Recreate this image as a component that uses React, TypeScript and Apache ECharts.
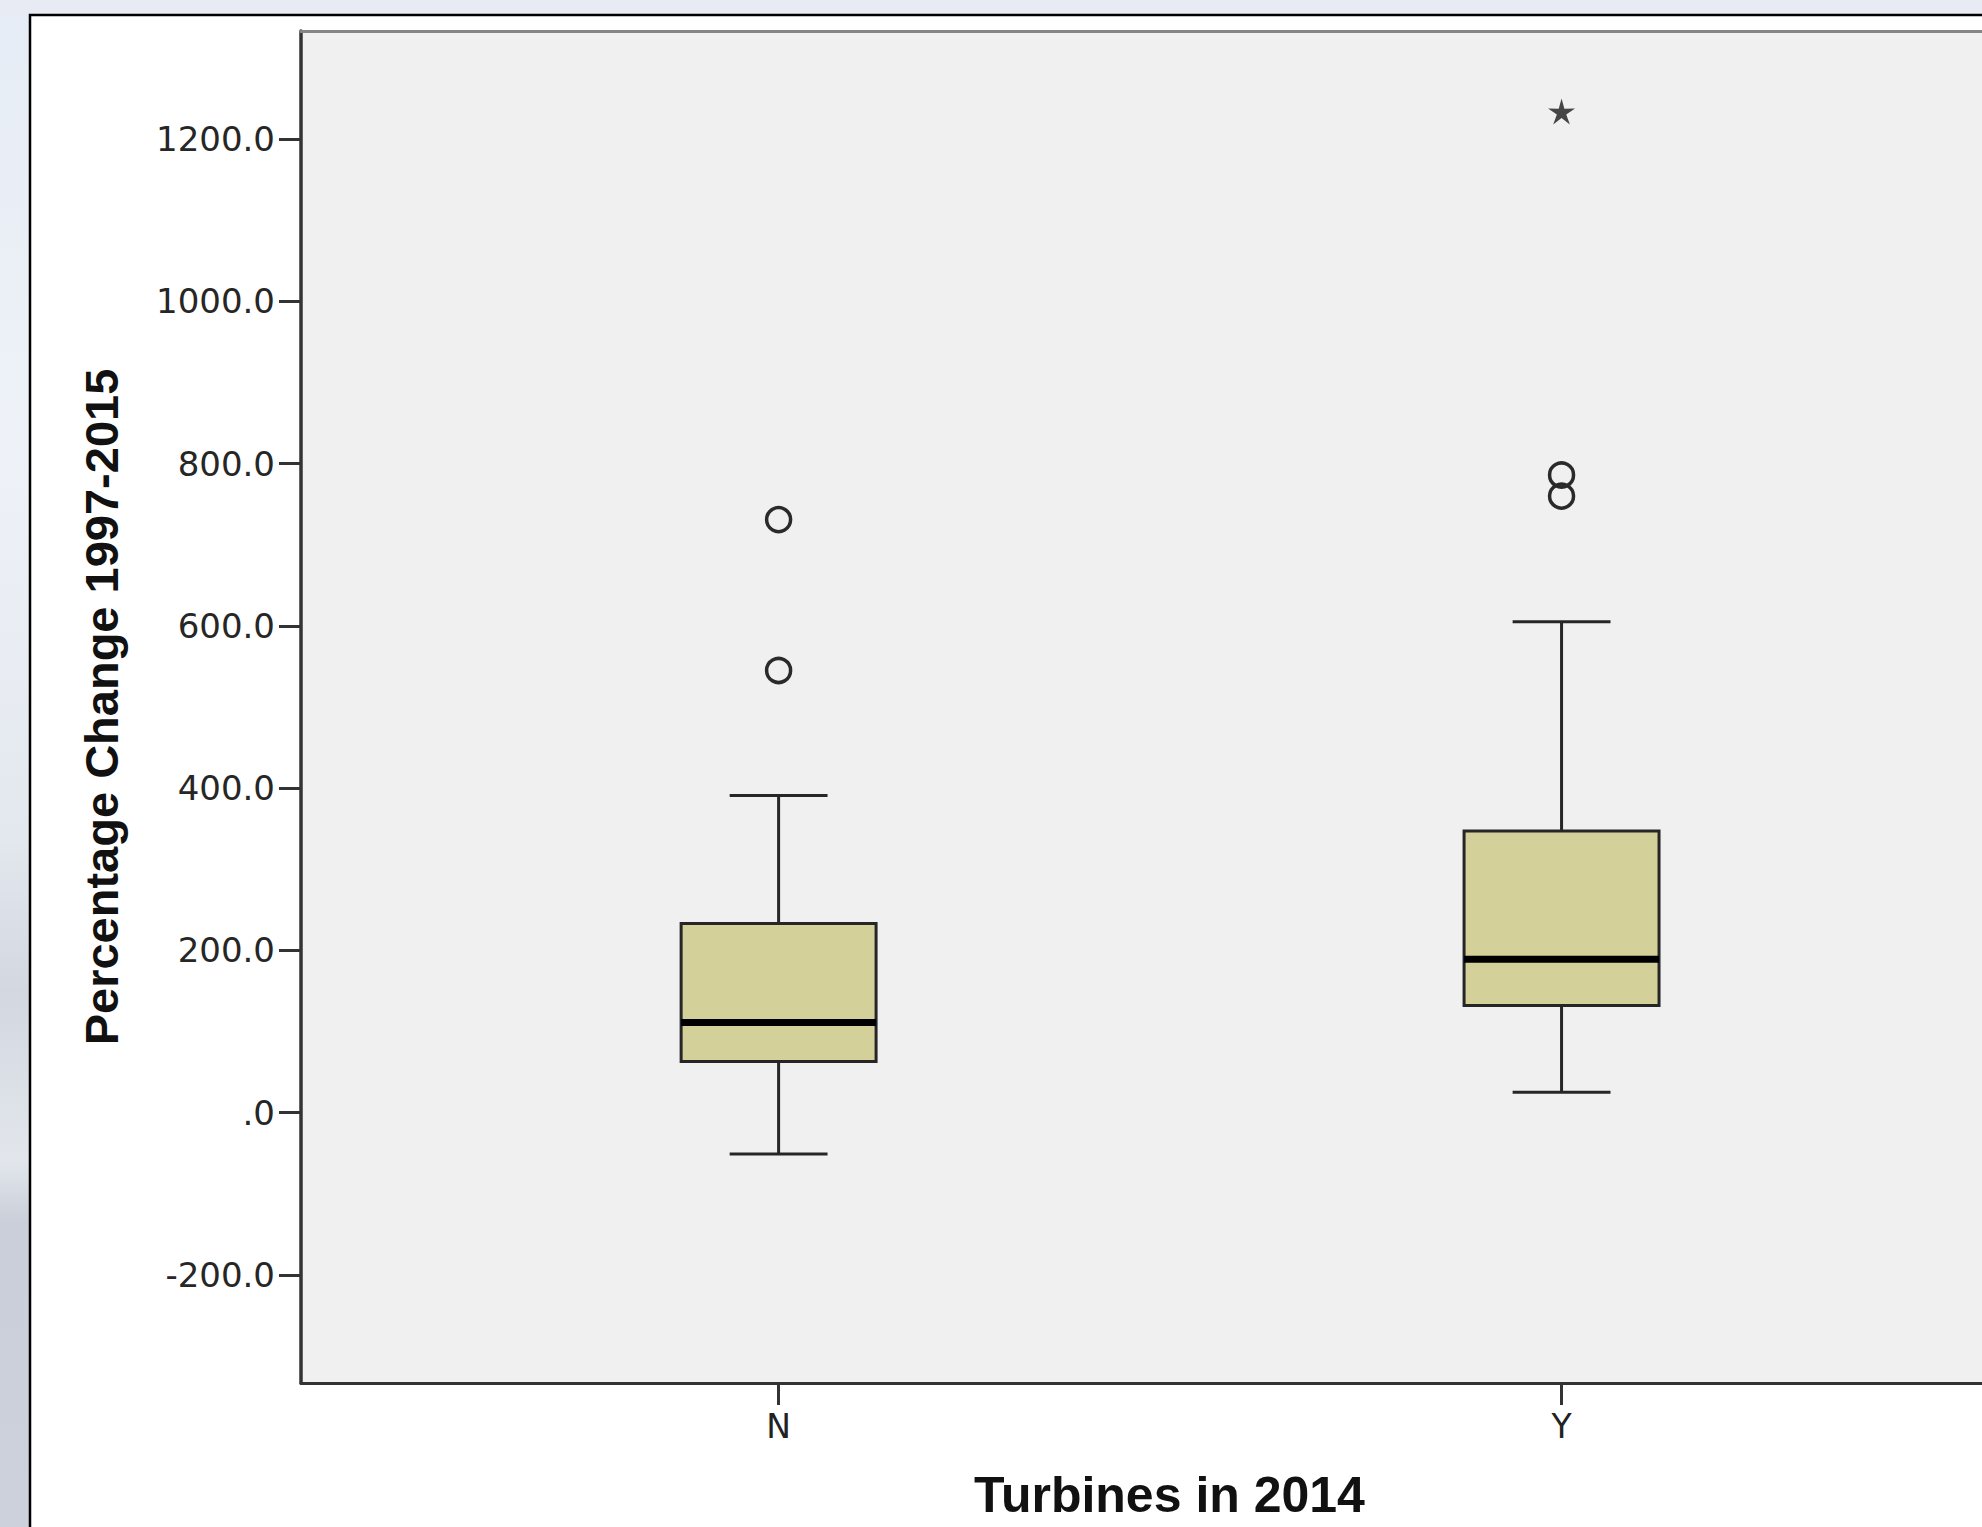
import React, { useEffect, useRef } from "react";
import * as echarts from "echarts";

// ---- data ----
const categories = ["N", "Y"];
const whiskerLow = [-51, 25];
const quartile1 = [63, 132];
const medians = [111, 189];
const quartile3 = [233, 347];
const whiskerHigh = [391, 605];
// outliers: [category index, value]
const outlierPoints = [
  [0, 731],
  [0, 545],
  [1, 786],
  [1, 760],
];
const extremePoints = [[1, 1234]];
const yTickValues = [-200, 0, 200, 400, 600, 800, 1000, 1200];
const xTickValues = [0, 1];

const BOX_HALF = 0.1245;
const CAP_HALF = 0.0625;

const STAR =
  "path://M50 0 L60 35 L97.55 34.55 L66.5 55.3 L79.39 90.45 L50 67.5 L20.61 90.45 L33.5 55.3 L2.45 34.55 L40 35 Z";

export default function App() {
  const ref = useRef<HTMLDivElement | null>(null);

  useEffect(() => {
    if (!ref.current) return;
    const chart = echarts.init(ref.current, null, { renderer: "svg" });
    const boxData = categories.map((_, i) => [
      i,
      whiskerLow[i],
      quartile1[i],
      medians[i],
      quartile3[i],
      whiskerHigh[i],
    ]);
    const lineStroke = "#262626";
    const option: any = {
      animation: false,
      backgroundColor: "#ffffff",
      graphic: [
        {
          type: "rect",
          z: -10,
          silent: true,
          shape: { x: 0, y: 0, width: 29, height: 1527 },
          style: {
            fill: {
              type: "linear",
              x: 0,
              y: 0,
              x2: 0,
              y2: 1,
              colorStops: [
                { offset: 0, color: "#e6ecf5" },
                { offset: 0.3, color: "#eef2f8" },
                { offset: 0.55, color: "#e3e7ee" },
                { offset: 0.65, color: "#d3d7e0" },
                { offset: 0.76, color: "#e2e6ec" },
                { offset: 0.8, color: "#cacfd9" },
                { offset: 1, color: "#cdd1db" },
              ],
            },
          },
        },
        {
          type: "rect",
          z: -10,
          silent: true,
          shape: { x: 0, y: 0, width: 1982, height: 14 },
          style: { fill: "#e8ebf3" },
        },
        {
          type: "polyline",
          z: -5,
          silent: true,
          shape: {
            points: [
              [30, 1527],
              [30, 15],
              [1982, 15],
            ],
          },
          style: { stroke: "#000000", lineWidth: 2.5, fill: null },
        },
      ],
      grid: {
        left: 301,
        top: 31,
        right: 0,
        bottom: 144,
        show: true,
        backgroundColor: "#f0f0f0",
        borderWidth: 0,
      },
      xAxis: [
        {
          type: "value",
          min: -0.61,
          max: 1.537,
          axisLine: {
            show: true,
            onZero: false,
            lineStyle: { color: "#333333", width: 3 },
          },
          axisTick: {
            show: true,
            customValues: xTickValues,
            length: 22,
            lineStyle: { color: "#333333", width: 3 },
          },
          axisLabel: {
            customValues: xTickValues,
            formatter: (v: number) => categories[Math.round(v)] ?? "",
            margin: 27,
            fontFamily: "DejaVu Sans",
            fontSize: 33,
            color: "#222222",
          },
          splitLine: { show: false },
          name: "Turbines in 2014",
          nameLocation: "middle",
          nameGap: 87,
          nameTextStyle: {
            fontFamily: "Liberation Sans",
            fontWeight: "bold",
            fontSize: 50,
            color: "#111111",
            padding: [0, 0, 0, 56],
          },
        },
        {
          type: "value",
          position: "top",
          min: -0.61,
          max: 1.537,
          axisLine: {
            show: true,
            onZero: false,
            lineStyle: { color: "#858585", width: 3 },
          },
          axisTick: { show: false },
          axisLabel: { show: false },
          splitLine: { show: false },
        },
      ],
      yAxis: {
        type: "value",
        min: -333.33,
        max: 1333.33,
        axisLine: {
          show: true,
          onZero: false,
          lineStyle: { color: "#333333", width: 3.5 },
        },
        axisTick: {
          show: true,
          customValues: yTickValues,
          length: 22,
          lineStyle: { color: "#333333", width: 3 },
        },
        axisLabel: {
          customValues: yTickValues,
          formatter: (v: number) => (v === 0 ? ".0" : v.toFixed(1)),
          margin: 26,
          fontFamily: "DejaVu Sans",
          fontSize: 34,
          color: "#262626",
        },
        splitLine: { show: false },
        name: "Percentage Change 1997-2015",
        nameLocation: "middle",
        nameGap: 176,
        nameTextStyle: {
          fontFamily: "Liberation Sans",
          fontWeight: "bold",
          fontSize: 47,
          color: "#111111",
        },
      },
      series: [
        {
          type: "custom",
          xAxisIndex: 0,
          data: boxData,
          encode: { x: 0, y: [1, 2, 3, 4, 5] },
          renderItem: (params: any, api: any) => {
            const c = api.value(0);
            const lo = api.value(1);
            const q1 = api.value(2);
            const md = api.value(3);
            const q3 = api.value(4);
            const hi = api.value(5);
            const pLo = api.coord([c, lo]);
            const pQ1 = api.coord([c, q1]);
            const pMd = api.coord([c, md]);
            const pQ3 = api.coord([c, q3]);
            const pHi = api.coord([c, hi]);
            const left = api.coord([c - BOX_HALF, q3])[0];
            const right = api.coord([c + BOX_HALF, q3])[0];
            const capL = api.coord([c - CAP_HALF, hi])[0];
            const capR = api.coord([c + CAP_HALF, hi])[0];
            const ls = { stroke: lineStroke, lineWidth: 3 };
            return {
              type: "group",
              children: [
                {
                  type: "line",
                  shape: { x1: pHi[0], y1: pHi[1], x2: pQ3[0], y2: pQ3[1] },
                  style: ls,
                },
                {
                  type: "line",
                  shape: { x1: pQ1[0], y1: pQ1[1], x2: pLo[0], y2: pLo[1] },
                  style: ls,
                },
                {
                  type: "line",
                  shape: { x1: capL, y1: pHi[1], x2: capR, y2: pHi[1] },
                  style: ls,
                },
                {
                  type: "line",
                  shape: { x1: capL, y1: pLo[1], x2: capR, y2: pLo[1] },
                  style: ls,
                },
                {
                  type: "rect",
                  shape: {
                    x: left,
                    y: pQ3[1],
                    width: right - left,
                    height: pQ1[1] - pQ3[1],
                  },
                  style: { fill: "#d4d099", stroke: lineStroke, lineWidth: 3 },
                },
                {
                  type: "line",
                  shape: { x1: left, y1: pMd[1], x2: right, y2: pMd[1] },
                  style: { stroke: "#000000", lineWidth: 7 },
                },
              ],
            };
          },
        },
        {
          type: "scatter",
          xAxisIndex: 0,
          data: outlierPoints,
          symbol: "circle",
          symbolSize: 24,
          itemStyle: {
            color: "rgba(0,0,0,0)",
            borderColor: "#2a2a2a",
            borderWidth: 3.5,
            opacity: 1,
          },
        },
        {
          type: "scatter",
          xAxisIndex: 0,
          data: extremePoints,
          symbol: STAR,
          symbolSize: [27, 26],
          itemStyle: { color: "#1a1a1a" },
        },
      ],
    };
    chart.setOption(option);
    return () => chart.dispose();
  }, []);

  return (
    <div
      ref={ref}
      style={{
        position: "absolute",
        left: 0,
        top: 0,
        width: 1982,
        height: 1527,
        overflow: "hidden",
      }}
    />
  );
}
